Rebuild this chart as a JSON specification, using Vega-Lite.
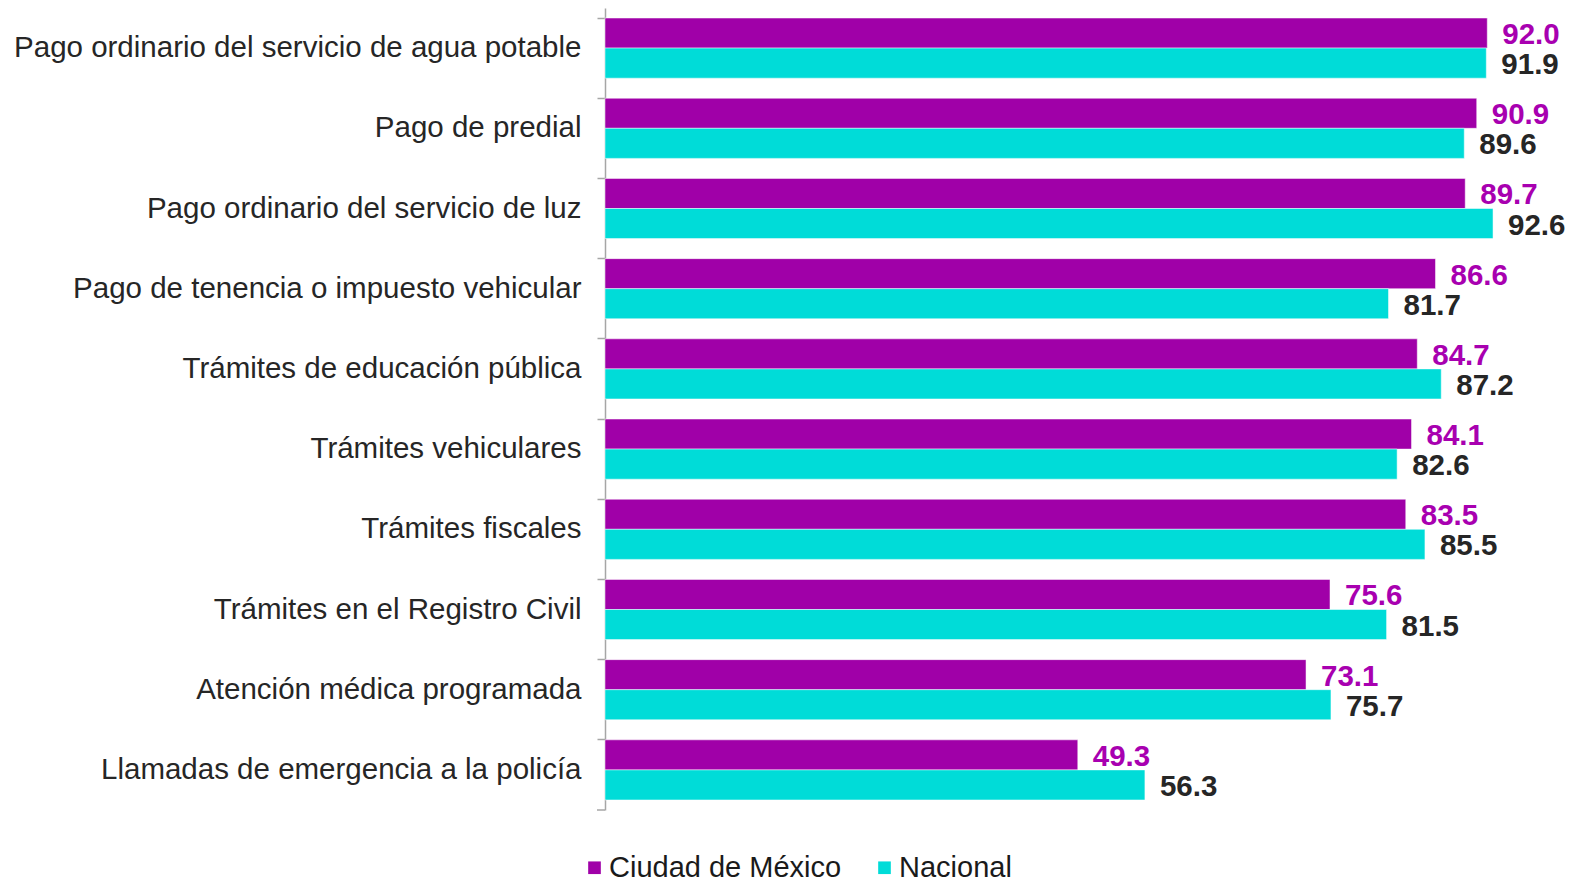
{
  "$schema": "https://vega.github.io/schema/vega-lite/v6.json",
  "autosize": "none",
  "width": 959,
  "height": 802,
  "padding": {"left": 605, "top": 8, "right": 6, "bottom": 70},
  "background": "white",
  "config": {"view": {"stroke": null}},
  "title": {"text": "(porcentaje)", "fontSize": 29, "font": "Liberation Sans", "fontWeight": "normal", "color": "#262626", "anchor": "middle", "frame": "group", "dx": -284, "baseline": "alphabetic", "offset": 10},
  "data": {"values": [
    {"tramite": "Pago ordinario del servicio de agua potable", "serie": "Ciudad de México", "valor": 92.0},
    {"tramite": "Pago ordinario del servicio de agua potable", "serie": "Nacional", "valor": 91.9},
    {"tramite": "Pago de predial", "serie": "Ciudad de México", "valor": 90.9},
    {"tramite": "Pago de predial", "serie": "Nacional", "valor": 89.6},
    {"tramite": "Pago ordinario del servicio de luz", "serie": "Ciudad de México", "valor": 89.7},
    {"tramite": "Pago ordinario del servicio de luz", "serie": "Nacional", "valor": 92.6},
    {"tramite": "Pago de tenencia o impuesto vehicular", "serie": "Ciudad de México", "valor": 86.6},
    {"tramite": "Pago de tenencia o impuesto vehicular", "serie": "Nacional", "valor": 81.7},
    {"tramite": "Trámites de educación pública", "serie": "Ciudad de México", "valor": 84.7},
    {"tramite": "Trámites de educación pública", "serie": "Nacional", "valor": 87.2},
    {"tramite": "Trámites vehiculares", "serie": "Ciudad de México", "valor": 84.1},
    {"tramite": "Trámites vehiculares", "serie": "Nacional", "valor": 82.6},
    {"tramite": "Trámites fiscales", "serie": "Ciudad de México", "valor": 83.5},
    {"tramite": "Trámites fiscales", "serie": "Nacional", "valor": 85.5},
    {"tramite": "Trámites en el Registro Civil", "serie": "Ciudad de México", "valor": 75.6},
    {"tramite": "Trámites en el Registro Civil", "serie": "Nacional", "valor": 81.5},
    {"tramite": "Atención médica programada", "serie": "Ciudad de México", "valor": 73.1},
    {"tramite": "Atención médica programada", "serie": "Nacional", "valor": 75.7},
    {"tramite": "Llamadas de emergencia a la policía", "serie": "Ciudad de México", "valor": 49.3},
    {"tramite": "Llamadas de emergencia a la policía", "serie": "Nacional", "valor": 56.3}
  ]},
  "encoding": {
    "y": {"field": "tramite", "type": "nominal", "sort": null,
      "scale": {"paddingInner": 0.25, "paddingOuter": 0.125},
      "axis": {"title": null, "labelFontSize": 29.5, "labelFont": "Liberation Sans", "labelColor": "#262626", "labelPadding": 16, "domainColor": "#A6A6A6", "domainWidth": 1.5, "tickColor": "#A6A6A6", "tickWidth": 1.5, "tickSize": 8, "bandPosition": 0, "labelLimit": 600}},
    "x": {"field": "valor", "type": "quantitative", "scale": {"domain": [0, 100]}, "axis": null},
    "yOffset": {"field": "serie", "type": "nominal", "sort": ["Ciudad de México", "Nacional"]}
  },
  "layer": [
    {"mark": {"type": "bar", "stroke": "white", "strokeWidth": 0.5},
     "encoding": {
       "color": {"field": "serie", "type": "nominal",
         "scale": {"domain": ["Ciudad de México", "Nacional"], "range": ["#A000A8", "#00DCD8"]},
         "legend": {"title": null, "orient": "none", "direction": "horizontal", "legendX": -25, "legendY": 845, "padding": 0, "symbolType": "square", "symbolSize": 160, "symbolStrokeWidth": 0, "labelFontSize": 29, "labelFont": "Liberation Sans", "labelColor": "#1a1a1a", "labelLimit": 500, "columnPadding": 28, "labelOffset": 0}}
     }},
    {"mark": {"type": "text", "align": "left", "baseline": "middle", "dx": 15, "dy": 2, "fontSize": 29.5, "fontWeight": "bold", "font": "Liberation Sans"},
     "encoding": {
       "text": {"field": "valor", "type": "quantitative", "format": ".1f"},
       "color": {"field": "serie", "type": "nominal", "scale": {"domain": ["Ciudad de México", "Nacional"], "range": ["#A000A8", "#00DCD8"]}, "legend": null},
       "fill": {"field": "serie", "type": "nominal", "scale": {"domain": ["Ciudad de México", "Nacional"], "range": ["#A800B0", "#262626"]}, "legend": null}
     }},
    {"mark": {"type": "rule", "color": "#A6A6A6", "strokeWidth": 1.5},
     "data": {"values": [{"a": 0}]},
     "encoding": {"x": {"value": -8}, "x2": {"value": 0}, "y": {"value": 802}, "yOffset": null}}
  ]
}
